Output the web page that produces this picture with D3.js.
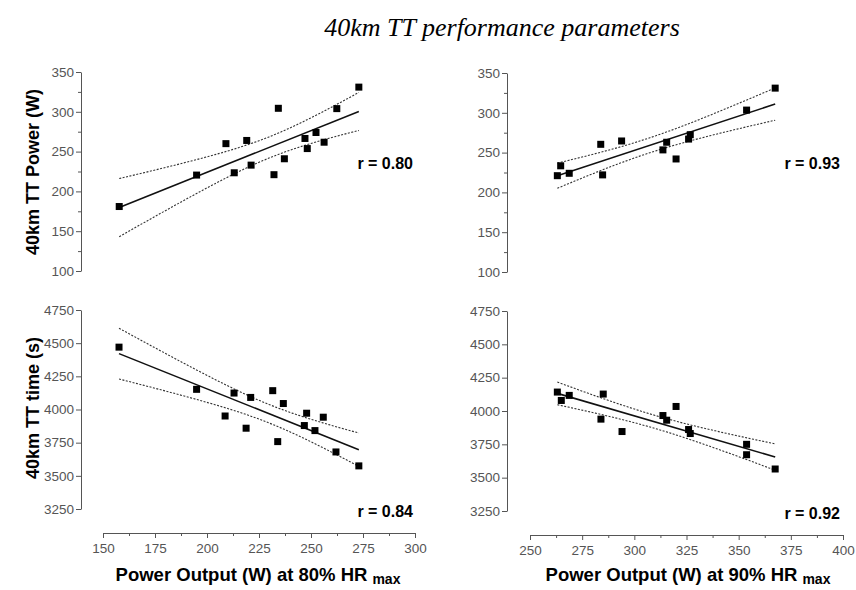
<!DOCTYPE html>
<html>
<head>
<meta charset="utf-8">
<script src="https://cdn.jsdelivr.net/npm/d3@7"></script>
<style>
body { margin: 0; background: #fff; }
</style>
</head>
<body>
<div id="chart"></div>
<script>
// power output at 80% HRmax vs 40km TT power (top left)
var p80Power = [157.8, 195.0, 209.1, 213.1, 219.1, 221.2, 232.2, 234.3, 237.2, 247.1, 248.2, 252.4, 256.3, 262.4, 273.0];
var ttPowerA = [181, 220.5, 260, 223.4, 264, 233, 221, 304.4, 241, 266.5, 253.8, 274, 261.8, 304, 331];
// power output at 90% HRmax vs 40km TT power (top right)
var p90Power = [263.1, 264.7, 268.8, 283.9, 284.8, 293.9, 313.7, 315.5, 320.0, 326.0, 326.8, 353.8, 367.5];
var ttPowerB = [221, 233.4, 224, 260.4, 222, 264.6, 253.4, 263, 242, 267, 272.5, 303.4, 331];
// power output at 80% HRmax vs 40km TT time (bottom left)
var p80Time = [157.7, 195.0, 208.7, 213.0, 218.8, 221.0, 231.6, 236.7, 234.0, 247.9, 246.8, 255.9, 251.9, 262.0, 273.0];
var ttTimeA = [4470, 4152, 3951, 4124, 3859, 4091, 4142, 4045, 3758, 3972, 3879, 3942, 3841, 3680, 3575];
// power output at 90% HRmax vs 40km TT time (bottom right)
var p90Time = [263.1, 265.0, 268.8, 285.1, 284.0, 294.1, 313.7, 315.5, 320.0, 326.0, 326.8, 353.8, 353.8, 367.5];
var ttTimeB = [4142, 4079, 4117, 4127, 3939, 3846, 3966, 3931, 4034, 3861, 3831, 3750, 3672, 3565];

var rLabels = ["r = 0.80", "r = 0.93", "r = 0.84", "r = 0.92"];
var powerTicks = [100, 150, 200, 250, 300, 350];
var timeTicks = [3250, 3500, 3750, 4000, 4250, 4500, 4750];
var x80Ticks = [150, 175, 200, 225, 250, 275, 300];
var x90Ticks = [250, 275, 300, 325, 350, 375, 400];

var width = 856, height = 590;
var svg = d3.select("#chart").append("svg")
    .attr("width", width)
    .attr("height", height);

var axisColor = "#555";
var font = "'Liberation Sans', Arial, sans-serif";

// scales
var x80 = d3.scaleLinear().domain([150, 300]).range([103, 415]);
var x90 = d3.scaleLinear().domain([250, 400]).range([530, 843]);
var yPowL = d3.scaleLinear().domain([100, 350]).range([271, 72]);
var yPowR = d3.scaleLinear().domain([100, 350]).range([272, 73]);
var yTimeL = d3.scaleLinear().domain([3250, 4750]).range([509, 310]);
var yTimeR = d3.scaleLinear().domain([3250, 4750]).range([511, 311]);

function tCrit(df) {
    if (df >= 13) return 2.160;
    if (df == 12) return 2.179;
    return 2.201;
}

function fit(xs, ys) {
    var n = xs.length;
    var mx = d3.mean(xs), my = d3.mean(ys);
    var sxx = 0, sxy = 0;
    for (var i = 0; i < n; i++) {
        sxx += (xs[i] - mx) * (xs[i] - mx);
        sxy += (xs[i] - mx) * (ys[i] - my);
    }
    var b = sxy / sxx;
    var a = my - b * mx;
    var sse = 0;
    for (var i = 0; i < n; i++) {
        var e = ys[i] - (a + b * xs[i]);
        sse += e * e;
    }
    var s = Math.sqrt(sse / (n - 2));
    var t = tCrit(n - 2);
    return {
        y: function(x) { return a + b * x; },
        ci: function(x) { return t * s * Math.sqrt(1 / n + (x - mx) * (x - mx) / sxx); }
    };
}

function drawYAxis(scale, xPos, majors, minors) {
    var g = svg.append("g").attr("transform", "translate(" + xPos + ",0)");
    if (minors) {
        g.append("g")
            .call(d3.axisLeft(scale).tickValues(minors).tickSize(3).tickFormat(""))
            .call(function(s) { s.select(".domain").remove(); });
    }
    g.append("g")
        .call(d3.axisLeft(scale).tickValues(majors).tickSize(5).tickSizeOuter(0)
            .tickPadding(2).tickFormat(d3.format("d")));
    g.selectAll("line, path").attr("stroke", axisColor);
    g.selectAll("text")
        .attr("fill", axisColor)
        .style("font-family", font)
        .style("font-size", "13.5px");
}

function drawXAxis(scale, yPos, majors) {
    var minors = [];
    for (var i = 0; i < majors.length - 1; i++) {
        minors.push((majors[i] + majors[i + 1]) / 2);
    }
    var g = svg.append("g").attr("transform", "translate(0," + yPos + ")");
    g.append("g")
        .call(d3.axisBottom(scale).tickValues(minors).tickSize(3).tickFormat(""))
        .call(function(s) { s.select(".domain").remove(); });
    g.append("g")
        .call(d3.axisBottom(scale).tickValues(majors).tickSize(5).tickSizeOuter(0)
            .tickPadding(5).tickFormat(d3.format("d")));
    g.selectAll("line, path").attr("stroke", axisColor);
    g.selectAll("text")
        .attr("fill", axisColor)
        .style("font-family", font)
        .style("font-size", "13.5px");
}

function drawPanel(xs, ys, xScale, yScale, label, labelX, labelY) {
    var g = svg.append("g");
    var f = fit(xs, ys);
    var xmin = d3.min(xs), xmax = d3.max(xs);
    var grid = d3.range(0, 41).map(function(i) { return xmin + (xmax - xmin) * i / 40; });

    var line = d3.line()
        .x(function(d) { return xScale(d[0]); })
        .y(function(d) { return yScale(d[1]); });

    var upper = grid.map(function(x) { return [x, f.y(x) + f.ci(x)]; });
    var lower = grid.map(function(x) { return [x, f.y(x) - f.ci(x)]; });
    var mid = [[xmin, f.y(xmin)], [xmax, f.y(xmax)]];

    g.selectAll("path.ci")
        .data([upper, lower])
        .enter()
        .append("path")
        .attr("class", "ci")
        .attr("d", line)
        .attr("fill", "none")
        .attr("stroke", "#333")
        .attr("stroke-width", 1.1)
        .attr("stroke-dasharray", "2,1.5");

    g.append("path")
        .attr("d", line(mid))
        .attr("fill", "none")
        .attr("stroke", "#111")
        .attr("stroke-width", 1.6);

    var pts = xs.map(function(x, i) { return [x, ys[i]]; });
    g.selectAll("rect")
        .data(pts)
        .enter()
        .append("rect")
        .attr("x", function(d) { return xScale(d[0]) - 3.5; })
        .attr("y", function(d) { return yScale(d[1]) - 3.5; })
        .attr("width", 7)
        .attr("height", 7)
        .attr("fill", "#000");

    g.append("text")
        .attr("x", labelX)
        .attr("y", labelY)
        .attr("text-anchor", "end")
        .style("font-family", font)
        .style("font-weight", "bold")
        .style("font-size", "16px")
        .text(label);
}

var powerMinors = [125, 175, 225, 275, 325];

drawYAxis(yPowL, 81, powerTicks, powerMinors);
drawYAxis(yPowR, 507, powerTicks, powerMinors);
drawYAxis(yTimeL, 81, timeTicks, null);
drawYAxis(yTimeR, 507, timeTicks, null);
drawXAxis(x80, 533, x80Ticks);
drawXAxis(x90, 535, x90Ticks);

drawPanel(p80Power, ttPowerA, x80, yPowL, rLabels[0], 413, 169);
drawPanel(p90Power, ttPowerB, x90, yPowR, rLabels[1], 840, 169);
drawPanel(p80Time, ttTimeA, x80, yTimeL, rLabels[2], 413, 517);
drawPanel(p90Time, ttTimeB, x90, yTimeR, rLabels[3], 840, 519);

// titles
svg.append("text")
    .attr("x", 502)
    .attr("y", 36)
    .attr("text-anchor", "middle")
    .style("font-family", "'Liberation Serif', 'Times New Roman', serif")
    .style("font-style", "italic")
    .style("font-size", "26px")
    .text("40km TT performance parameters");

var yTitles = [
    { text: "40km TT Power (W)", cy: 172 },
    { text: "40km TT time (s)", cy: 408 }
];
svg.selectAll("text.ytitle")
    .data(yTitles)
    .enter()
    .append("text")
    .attr("class", "ytitle")
    .attr("transform", function(d) { return "translate(39," + d.cy + ") rotate(-90)"; })
    .attr("text-anchor", "middle")
    .style("font-family", font)
    .style("font-weight", "bold")
    .style("font-size", "18px")
    .text(function(d) { return d.text; });

var xTitles = [
    { pct: "80%", cx: 258 },
    { pct: "90%", cx: 688 }
];
var xt = svg.selectAll("text.xtitle")
    .data(xTitles)
    .enter()
    .append("text")
    .attr("class", "xtitle")
    .attr("x", function(d) { return d.cx; })
    .attr("y", 581)
    .attr("text-anchor", "middle")
    .style("font-family", font)
    .style("font-weight", "bold")
    .style("font-size", "18.5px");
xt.append("tspan").text(function(d) { return "Power Output (W) at " + d.pct + " HR"; });
xt.append("tspan")
    .attr("dx", 5)
    .attr("dy", 3)
    .style("font-size", "14px")
    .text("max");
</script>
</body>
</html>
